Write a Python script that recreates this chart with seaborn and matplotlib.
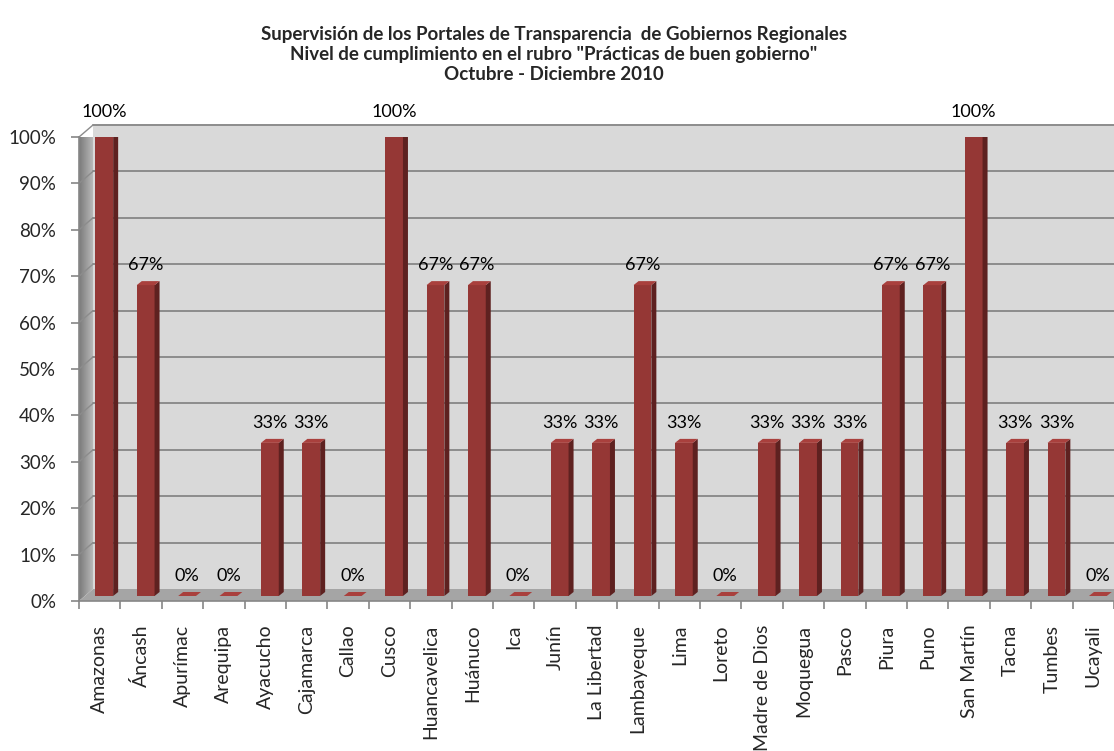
import matplotlib
matplotlib.use("Agg")
import numpy as np
import pandas as pd
import matplotlib.pyplot as plt
import seaborn as sns
from matplotlib.patches import Polygon, Rectangle

# data
regiones = ["Amazonas", "Áncash", "Apurímac", "Arequipa", "Ayacucho", "Cajamarca",
            "Callao", "Cusco", "Huancavelica", "Huánuco", "Ica", "Junín",
            "La Libertad", "Lambayeque", "Lima", "Loreto", "Madre de Dios",
            "Moquegua", "Pasco", "Piura", "Puno", "San Martín", "Tacna",
            "Tumbes", "Ucayali"]
cumplimiento = [1.00, 0.67, 0.00, 0.00, 0.33, 0.33, 0.00, 1.00, 0.67, 0.67, 0.00,
                0.33, 0.33, 0.67, 0.33, 0.00, 0.33, 0.33, 0.33, 0.67, 0.67, 1.00,
                0.33, 0.33, 0.00]
y_ticks = np.arange(0, 1.01, 0.1)

titulo = ("Supervisión de los Portales de Transparencia  de Gobiernos Regionales\n"
          "Nivel de cumplimiento en el rubro \"Prácticas de buen gobierno\"\n"
          "Octubre - Diciembre 2010")

df = pd.DataFrame({"region": regiones, "valor": cumplimiento})

sns.set_theme(style="white")
plt.rcParams['font.family'] = ['Lato', 'DejaVu Sans']

W, H = 1114, 751
fig = plt.figure(figsize=(W / 100, H / 100), dpi=100)
ax = fig.add_axes([79 / W, (H - 601) / H, (W - 79) / W, 464 / H])
ax.set_facecolor("none")

sns.barplot(data=df, x="region", y="valor", color="#953735", saturation=1,
            width=0.43, ax=ax, zorder=3, linewidth=0)
bars = list(ax.containers[0])

# 3D walls (axes coords)
dx, dy = 14 / 1035, 12 / 464
wall = Rectangle((dx, dy), 1 - dx, 1, transform=ax.transAxes, facecolor="#d9d9d9",
                 edgecolor="none", zorder=0, clip_on=False)
ax.add_patch(wall)
left_wall = Polygon([(0, 0), (dx, dy), (dx, 1 + dy), (0, 1)], closed=True,
                    transform=ax.transAxes, facecolor="none", edgecolor="none",
                    clip_on=False, zorder=0.5)
ax.add_patch(left_wall)
grad = np.linspace(0, 1, 64).reshape(1, -1)
im = ax.imshow(grad, cmap=matplotlib.colors.LinearSegmentedColormap.from_list(
    "w", ["#7a7a7a", "#b8b8b8"]), extent=(0, dx, 0, 1 + dy), transform=ax.transAxes,
    aspect="auto", zorder=0.5)
im.set_clip_path(left_wall)
floor = Polygon([(0, 0), (1, 0), (1, dy), (dx, dy)], closed=True, transform=ax.transAxes,
                facecolor="#a5a5a5", edgecolor="none", zorder=0.6, clip_on=False)
ax.add_patch(floor)

# gridlines on back and side walls
for v in y_ticks[1:]:
    ax.plot([dx, 1], [v + dy, v + dy], transform=ax.transAxes, color="#8c8c8c",
            lw=1.4, zorder=0.7, clip_on=False)
    ax.plot([0, dx], [v, v + dy], transform=ax.transAxes, color="#8c8c8c",
            lw=1.0, zorder=0.7, clip_on=False)

shift = 0.11
base = 5 / 464
ddx, ddy = 5 / 41.4, 4 / 464
for p, v in zip(bars, cumplimiento):
    p.set_x(p.get_x() + shift)
    p.set_y(base)
    x0 = p.get_x()
    x1 = x0 + p.get_width()
    h = v + base
    side = Polygon([(x1, base), (x1 + ddx, base + ddy), (x1 + ddx, h + ddy), (x1, h)],
                   closed=True, facecolor="#5e2120", edgecolor="none", zorder=3)
    top = Polygon([(x0, h), (x1, h), (x1 + ddx, h + ddy), (x0 + ddx, h + ddy)],
                  closed=True, facecolor="#a9403d", edgecolor="none", zorder=3.5)
    ax.add_patch(side)
    ax.add_patch(top)
    ax.annotate(f"{v:.0%}", (x0 + p.get_width() / 2, v), xytext=(0, 18),
                textcoords="offset points", ha="center", va="center",
                fontsize=13, color="black", annotation_clip=False)

ax.set_xlim(-0.5, len(regiones) - 0.5)
ax.set_ylim(0, 1)
ax.set_yticks(y_ticks)
ax.set_yticklabels([f"{v:.0%}" for v in y_ticks], fontsize=13.5)
ax.set_xticks(range(len(regiones)))
ax.set_xticklabels(regiones, rotation=90, fontsize=14)
ax.set_xticks(np.arange(-0.5, len(regiones) - 0.4, 1), minor=True)
ax.tick_params(axis="x", which="major", length=0, pad=17)
ax.tick_params(axis="x", which="minor", length=6, color="#868686", width=1.2,
               direction="out", bottom=True)
ax.tick_params(axis="y", length=6, color="#868686", width=1.2, direction="out",
               left=True, pad=10.5)
ax.set_xlabel("")
ax.set_ylabel("")
for s in ["top", "right"]:
    ax.spines[s].set_visible(False)
for s in ["left", "bottom"]:
    ax.spines[s].set_color("#868686")
    ax.spines[s].set_linewidth(1.2)

fig.text(0.497, 1 - 26 / H, titulo, ha="center", va="top", fontsize=13.5,
         fontweight="bold", linespacing=1.22)

fig.savefig("out.png", dpi=100)
